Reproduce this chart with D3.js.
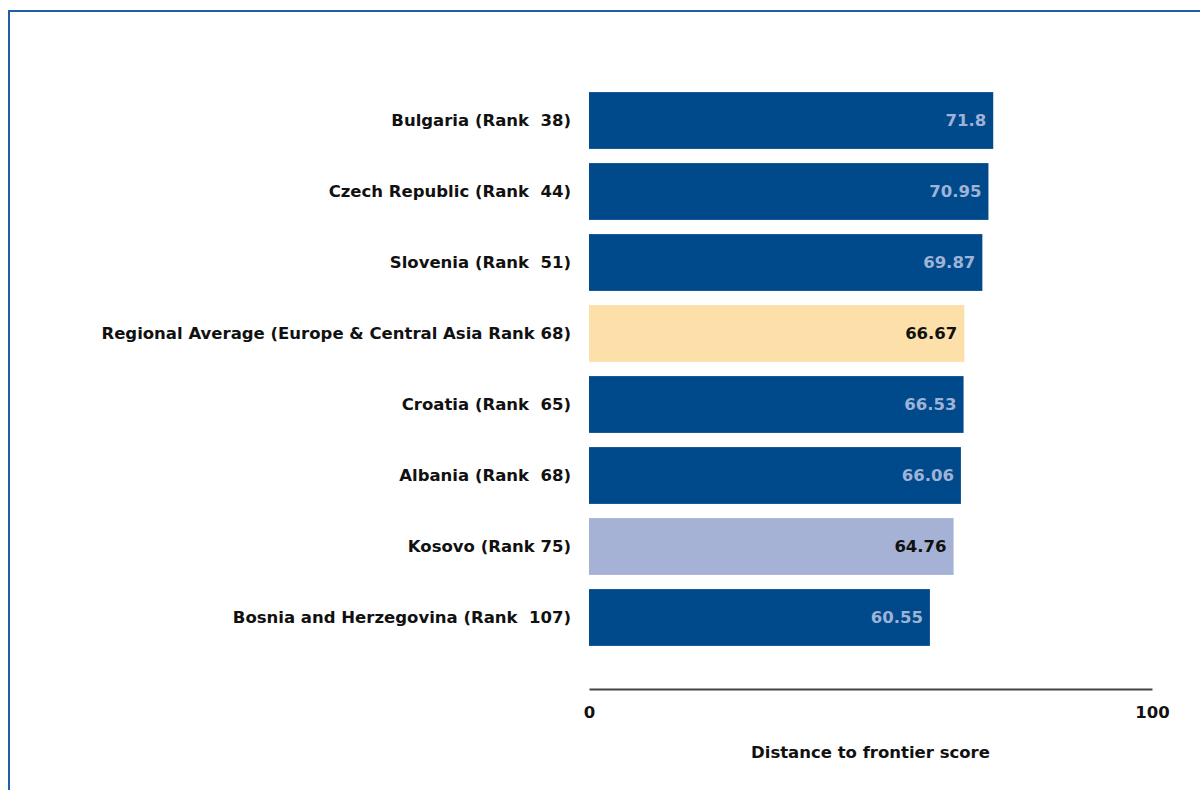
<!DOCTYPE html>
<html><head><meta charset="utf-8">
<script src="https://cdn.jsdelivr.net/npm/d3@7"></script>
<style>body{margin:0;background:#fff}svg text{white-space:pre}</style>
</head><body>
<script>
const categories = ["Bulgaria (Rank  38)","Czech Republic (Rank  44)","Slovenia (Rank  51)","Regional Average (Europe & Central Asia Rank 68)","Croatia (Rank  65)","Albania (Rank  68)","Kosovo (Rank 75)","Bosnia and Herzegovina (Rank  107)"];
const values = [71.8,70.95,69.87,66.67,66.53,66.06,64.76,60.55];
const valueLabels = ["71.8","70.95","69.87","66.67","66.53","66.06","64.76","60.55"];
const kinds = ["country","country","country","regional","country","country","focus","country"];
const xTicks = [0,100];
const xTitle = "Distance to frontier score";

const W=1200,H=790;
const svg=d3.select("body").append("svg").attr("width",W).attr("height",H);
const font="'DejaVu Sans', Verdana, sans-serif";
const fs=16.5;
// frame
svg.append("path").attr("d",`M9,${H} L9,11 L${W},11`).attr("fill","none").attr("stroke","#1f5ea8").attr("stroke-width",2);

const x=d3.scaleLinear().domain([0,100]).range([589,1152]);
const y=d3.scaleBand().domain(categories).range([85,653]).paddingInner(0.2).paddingOuter(0.1);
const fill={country:"#004a8c",regional:"#fde0a9",focus:"#a6b2d5"};
const txt={country:"#9fb3d6",regional:"#111",focus:"#111"};

const g=svg.append("g");
g.selectAll("rect").data(categories).join("rect")
 .attr("x",x(0)).attr("y",d=>y(d)).attr("height",y.bandwidth())
 .attr("width",(d,i)=>x(values[i])-x(0))
 .attr("fill",(d,i)=>fill[kinds[i]]);
g.selectAll("text.v").data(categories).join("text").attr("class","v")
 .attr("x",(d,i)=>x(values[i])-7).attr("y",d=>y(d)+y.bandwidth()/2)
 .attr("dy","0.35em").attr("text-anchor","end")
 .attr("font-family",font).attr("font-weight","bold").attr("font-size",fs)
 .attr("fill",(d,i)=>txt[kinds[i]]).text((d,i)=>valueLabels[i]);
g.selectAll("text.c").data(categories).join("text").attr("class","c")
 .attr("x",571).attr("y",d=>y(d)+y.bandwidth()/2)
 .attr("dy","0.35em").attr("text-anchor","end")
 .attr("font-family",font).attr("font-weight","bold").attr("font-size",fs)
 .attr("fill","#111").text(d=>d);

const ax=svg.append("g").attr("transform","translate(0,689)")
 .call(d3.axisBottom(x).tickValues(xTicks).tickSize(0).tickPadding(17).tickFormat(d3.format("d")));
ax.select(".domain").attr("stroke","#444").attr("stroke-width",2);
ax.selectAll("text").attr("font-family",font).attr("font-weight","bold").attr("font-size",fs).attr("fill","#111");
svg.append("text").attr("x",(x(0)+x(100))/2).attr("y",758).attr("text-anchor","middle")
 .attr("font-family",font).attr("font-weight","bold").attr("font-size",fs).attr("fill","#111").text(xTitle);
</script>
</body></html>
